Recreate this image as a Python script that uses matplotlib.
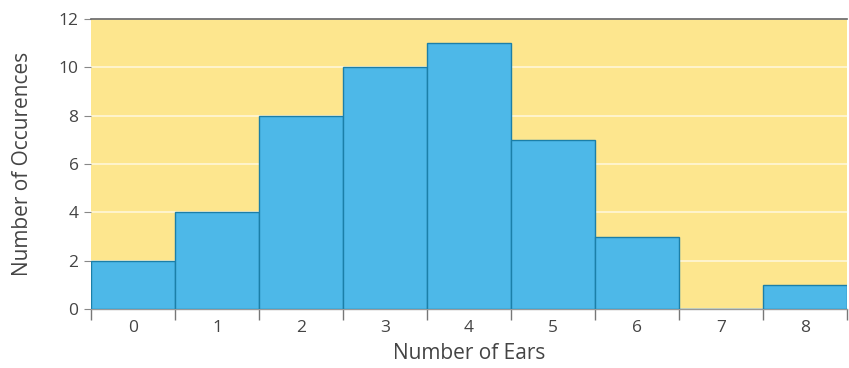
import matplotlib
matplotlib.use("Agg")
import matplotlib.pyplot as plt
import numpy as np

ears = [0, 1, 2, 3, 4, 5, 6, 7, 8]
occurrences = [2, 4, 8, 10, 11, 7, 3, 0, 1]
y_ticks = [0, 2, 4, 6, 8, 10, 12]

plt.rcParams['font.family'] = ['Open Sans', 'DejaVu Sans']

fig = plt.figure(figsize=(8.49, 3.68), dpi=100)
ax = fig.add_axes([91/849, 59/368, 756/849, 290/368])
ax.set_facecolor('#FDE68E')

ax.bar(ears, occurrences, width=1.0, color='#4DB8E8', edgecolor='#1B7FA8',
       linewidth=1.0, zorder=3)

ax.set_xlim(-0.5, 8.5)
ax.set_ylim(0, 12)
ax.set_yticks(y_ticks)
ax.yaxis.grid(True, color='#FFF6D8', linewidth=1.2, zorder=1)
ax.set_axisbelow(True)

ax.set_xticks(ears)
ax.set_xticks(np.arange(-0.5, 9.0, 1.0), minor=True)
ax.tick_params(axis='x', which='major', length=0, pad=8, labelsize=12.5,
               labelcolor='#444444')
ax.tick_params(axis='x', which='minor', length=8, color='#777777', width=1)
ax.tick_params(axis='y', length=5, color='#888888', labelsize=12.5,
               labelcolor='#444444', pad=4)

for side in ['left', 'right']:
    ax.spines[side].set_visible(False)
ax.spines['top'].set_color('#666666')
ax.spines['top'].set_linewidth(1.2)
ax.spines['bottom'].set_color('#999999')
ax.spines['bottom'].set_linewidth(1.0)

ax.set_xlabel('Number of Ears', fontsize=15, color='#444444', labelpad=5)
ax.set_ylabel('Number of Occurences', fontsize=15, color='#444444', labelpad=18)

fig.savefig('out.png', dpi=100)
